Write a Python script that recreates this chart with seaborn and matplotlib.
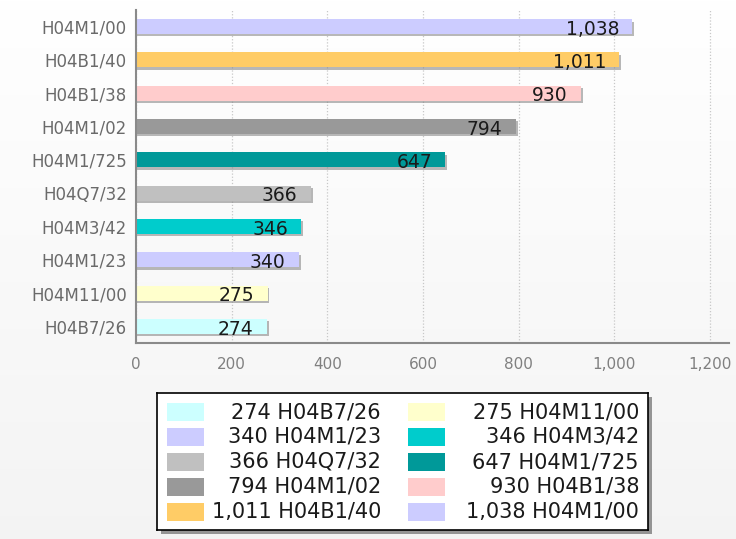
import numpy as np
import matplotlib
matplotlib.use("Agg")
import matplotlib.pyplot as plt
from matplotlib.patches import Rectangle
from matplotlib.ticker import FuncFormatter
import seaborn as sns

# Patent classification codes, top to bottom
categories = ["H04M1/00", "H04B1/40", "H04B1/38", "H04M1/02", "H04M1/725",
              "H04Q7/32", "H04M3/42", "H04M1/23", "H04M11/00", "H04B7/26"]
counts = [1038, 1011, 930, 794, 647, 366, 346, 340, 275, 274]
bar_colors = ["#ccccff", "#ffcc66", "#ffcccc", "#999999", "#009999",
              "#c0c0c0", "#00cccc", "#ccccff", "#ffffcc", "#ccffff"]
x_ticks = [0, 200, 400, 600, 800, 1000, 1200]

sns.set_theme(style="white")
plt.rcParams["font.family"] = ["DejaVu Sans"]

W, H = 736, 539
fig = plt.figure(figsize=(W / 100, H / 100), dpi=100)

# soft vertical background gradient
bg = fig.add_axes([0, 0, 1, 1], zorder=-10)
grad = np.linspace(1.0, 0.955, 256).reshape(-1, 1)
bg.imshow(np.dstack([grad, grad, grad]), aspect="auto", extent=[0, 1, 0, 1])
bg.axis("off")

ax = fig.add_axes([0.1848, 0.3636, 0.8057, 0.6178])
ax.patch.set_alpha(0)

# drop shadow behind each bar
pos = np.arange(len(categories))
ax.barh(pos + 0.07, np.array(counts) + 4, height=0.45, color="#7f7f7f",
        alpha=0.55, zorder=1, linewidth=0)

sns.barplot(x=counts, y=categories, hue=categories, palette=bar_colors,
            orient="h", width=0.45, legend=False, ax=ax, zorder=2,
            saturation=1, linewidth=0)

for i, v in enumerate(counts):
    ax.text(v - 28, i + 0.08, f"{v:,}", ha="right", va="center",
            fontsize=13.5, color="#1a1a1a", zorder=3)

ax.set_xlim(0, 1240)
ax.set_ylim(len(categories) - 0.5, -0.5)
ax.set_xticks(x_ticks)
ax.xaxis.set_major_formatter(FuncFormatter(lambda v, p: f"{int(v):,}"))
ax.set_xlabel("")
ax.set_ylabel("")

ax.grid(axis="x", color="#c8c8c8", linestyle=(0, (1, 1.5)), linewidth=0.9)
ax.set_axisbelow(True)
for s in ["top", "right"]:
    ax.spines[s].set_visible(False)
for s in ["left", "bottom"]:
    ax.spines[s].set_color("#8a8a8a")
    ax.spines[s].set_linewidth(1.5)
ax.tick_params(axis="both", colors="#8a8a8a", direction="out")
ax.tick_params(axis="y", length=5, width=1.2, pad=1.5, labelsize=12,
               labelcolor="#6a6a6a")
ax.tick_params(axis="x", length=6, width=1.2, pad=4, labelsize=11,
               labelcolor="#808080")

# legend box: ascending order, filled row by row in two columns
lx0, ly0, lw, lh = 157, 393, 491, 137
fig.patches.append(Rectangle(((lx0 + 4) / W, 1 - (ly0 + lh + 4) / H),
                             lw / W, lh / H, transform=fig.transFigure,
                             facecolor="#555555", edgecolor="none",
                             alpha=0.6, zorder=5))
lax = fig.add_axes([lx0 / W, 1 - (ly0 + lh) / H, lw / W, lh / H], zorder=6)
lax.set_xlim(0, lw)
lax.set_ylim(lh, 0)
lax.set_xticks([])
lax.set_yticks([])
lax.set_facecolor("white")
for s in lax.spines.values():
    s.set_color("black")
    s.set_linewidth(1.2)

order = list(np.argsort(counts, kind="stable"))
swatch_x = [10, 251]
text_right = [224, 482]
for k, i in enumerate(order):
    row, col = divmod(k, 2)
    yc = 19 + row * 25
    lax.add_patch(Rectangle((swatch_x[col], yc - 9), 37, 18,
                            facecolor=bar_colors[i], edgecolor="none"))
    lax.text(text_right[col], yc, f"{counts[i]:,} {categories[i]}",
             ha="right", va="center", fontsize=15, color="#1a1a1a")

fig.savefig("out.png", dpi=100)
